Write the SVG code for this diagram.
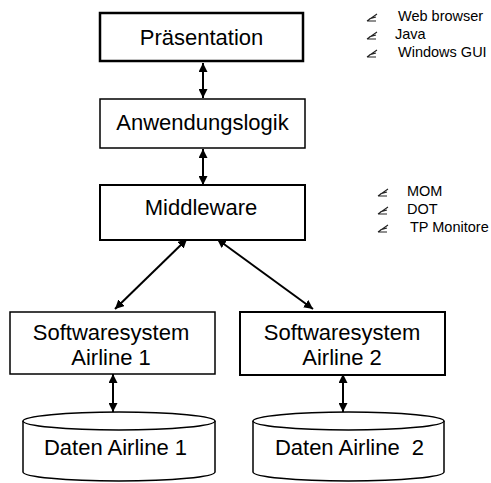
<svg xmlns="http://www.w3.org/2000/svg" width="491" height="483" viewBox="0 0 491 483">
<style>
.box{fill:#fff;stroke:#000;stroke-width:2}
.t{font-family:"Liberation Sans",Arial,sans-serif;font-size:22px;fill:#000;text-anchor:middle}
.b{font-family:"Liberation Sans",Arial,sans-serif;font-size:14.5px;fill:#000}
.c{stroke:#000;stroke-width:2;fill:none;marker-start:url(#ah);marker-end:url(#ah)}
.ic{stroke:#222;stroke-width:1.1;fill:none}
</style>
<defs>
<marker id="ah" viewBox="0 0 10 10" refX="10" refY="5" markerWidth="4.5" markerHeight="4.5" orient="auto-start-reverse">
<path d="M0 0 L10 5 L0 10 Z" fill="#000"/>
</marker>
<g id="pen"><path class="ic" d="M0 8 L10 1 M0 8 L9 8 M2 6 L9 4"/></g>
</defs>
<rect width="491" height="483" fill="#fff"/>
<g id="connectors">
<line class="c" x1="203" y1="63" x2="203" y2="98"/>
<line class="c" x1="203" y1="149" x2="203" y2="185"/>
<line class="c" x1="187" y1="239" x2="115" y2="309"/>
<line class="c" x1="217" y1="239" x2="313" y2="309"/>
<line class="c" x1="113" y1="374" x2="113" y2="412"/>
<line class="c" x1="343" y1="374" x2="343" y2="412"/>
</g>
<g id="praesentation"><rect class="box" x="100" y="13" width="203" height="48" style="stroke-width:2.5"/><text class="t" x="201.5" y="45">Präsentation</text></g>
<g id="anwendungslogik"><rect class="box" x="100" y="99" width="205" height="49" style="stroke-width:1.5"/><text class="t" x="202.5" y="130">Anwendungslogik</text></g>
<g id="middleware"><rect class="box" x="100" y="185" width="205" height="55"/><text class="t" x="201" y="215">Middleware</text></g>
<g id="sw1"><rect class="box" x="10" y="312" width="205" height="62" style="stroke-width:1.5"/><text class="t" x="111" y="340">Softwaresystem</text><text class="t" x="111" y="365">Airline 1</text></g>
<g id="sw2"><rect class="box" x="240" y="312" width="205" height="63"/><text class="t" x="342" y="340">Softwaresystem</text><text class="t" x="342" y="365">Airline 2</text></g>
<g id="db1"><path class="box" d="M23 421 L23 472 A96 9 0 0 0 215 472 L215 421" style="stroke-width:1.5"/><ellipse class="box" cx="119" cy="421" rx="96" ry="9" style="stroke-width:1.5"/><text class="t" x="115.5" y="455">Daten Airline 1</text></g>
<g id="db2"><path class="box" d="M253 421 L253 472 A95.5 9 0 0 0 444 472 L444 421" style="stroke-width:1.5"/><ellipse class="box" cx="348.5" cy="421" rx="95.5" ry="9" style="stroke-width:1.5"/><text class="t" x="349.5" y="455" xml:space="preserve">Daten Airline  2</text></g>
<g id="notes-top">
<use href="#pen" x="367" y="13"/><text class="b" x="398" y="21">Web browser</text>
<use href="#pen" x="367" y="31"/><text class="b" x="395" y="39">Java</text>
<use href="#pen" x="367" y="49"/><text class="b" x="398" y="57">Windows GUI</text>
</g>
<g id="notes-mid">
<use href="#pen" x="378" y="188"/><text class="b" x="407" y="196">MOM</text>
<use href="#pen" x="378" y="206"/><text class="b" x="407" y="214">DOT</text>
<use href="#pen" x="378" y="224"/><text class="b" x="410" y="232">TP Monitore</text>
</g>
</svg>
